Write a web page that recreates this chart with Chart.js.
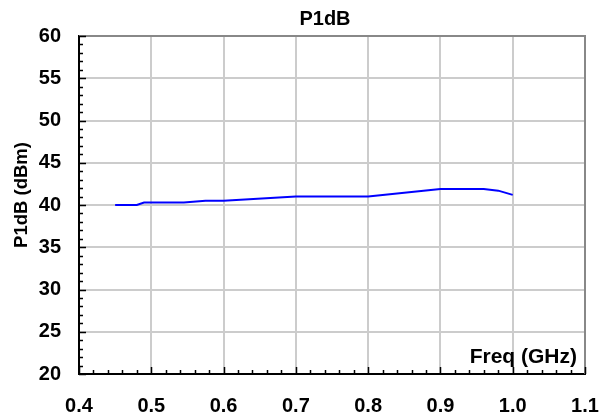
<!DOCTYPE html>
<html>
<head>
<meta charset="utf-8">
<script src="https://cdn.jsdelivr.net/npm/chart.js@4/dist/chart.umd.min.js"></script>
<style>
html,body{margin:0;padding:0;background:#fff;}
#wrap{width:607px;height:417px;position:relative;}
</style>
</head>
<body>
<div id="wrap"><canvas id="c" width="607" height="417"></canvas></div>
<script>
const chartTitle = "P1dB";
const xAxisTitle = "Freq (GHz)";
const yAxisTitle = "P1dB (dBm)";
const freqGHz = [0.45, 0.48, 0.49, 0.545, 0.575, 0.60, 0.70, 0.80, 0.90, 0.96, 0.98, 1.00];
const p1dB    = [40.0, 40.0, 40.3, 40.3, 40.5, 40.5, 41.0, 41.0, 41.9, 41.9, 41.7, 41.2];
const xTicks = [0.4, 0.5, 0.6, 0.7, 0.8, 0.9, 1.0, 1.1];
const yTicks = [20, 25, 30, 35, 40, 45, 50, 55, 60];

const FONT = "'Liberation Sans', Arial, sans-serif";

const extras = {
  id: 'extras',
  afterDraw(chart) {
    const ctx = chart.ctx, ca = chart.chartArea;
    const xs = chart.scales.x, ys = chart.scales.y;
    ctx.save();
    // top/right border
    ctx.strokeStyle = '#888888';
    ctx.lineWidth = 2;
    ctx.beginPath();
    ctx.moveTo(ca.left, ca.top);
    ctx.lineTo(ca.right, ca.top);
    ctx.lineTo(ca.right, ca.bottom);
    ctx.stroke();
    // minor ticks
    ctx.strokeStyle = '#000';
    ctx.lineWidth = 1.5;
    ctx.beginPath();
    for (let i = 0; i <= 40; i++) {
      const v = yTicks[0] + i;
      const py = Math.round(ys.getPixelForValue(v)) + 0.5;
      const len = (i % 5 === 0) ? 7 : 4;
      ctx.moveTo(ca.left, py);
      ctx.lineTo(ca.left + len, py);
    }
    for (let i = 0; i <= 35; i++) {
      const v = xTicks[0] + i * 0.02;
      const px = Math.round(xs.getPixelForValue(v)) + 0.5;
      const len = (i % 5 === 0) ? 7 : 4;
      ctx.moveTo(px, ca.bottom);
      ctx.lineTo(px, ca.bottom - len);
    }
    ctx.stroke();
    ctx.fillStyle = '#000';
    // title
    ctx.font = "bold 20px " + FONT;
    ctx.textAlign = 'center';
    ctx.textBaseline = 'alphabetic';
    ctx.fillText(chartTitle, 325, 25);
    // x axis title inside plot
    ctx.font = "bold 21px " + FONT;
    ctx.textAlign = 'right';
    ctx.fillText(xAxisTitle, ca.right - 8, ca.bottom - 11);
    // y axis title
    ctx.translate(27, 195);
    ctx.rotate(-Math.PI / 2);
    ctx.font = "bold 18.5px " + FONT;
    ctx.textAlign = 'center';
    ctx.fillText(yAxisTitle, 0, 0);
    ctx.restore();
  }
};

new Chart(document.getElementById('c'), {
  type: 'scatter',
  data: {
    datasets: [{
      data: freqGHz.map((f, i) => ({x: f, y: p1dB[i]})),
      showLine: true,
      borderColor: '#0000ff',
      backgroundColor: '#0000ff',
      borderWidth: 2,
      pointRadius: 0,
      tension: 0
    }]
  },
  options: {
    responsive: false,
    animation: false,
    layout: { padding: { top: 36, right: 22, bottom: 0, left: 0 } },
    plugins: {
      legend: { display: false },
      tooltip: { enabled: false },
      title: { display: false }
    },
    scales: {
      x: {
        type: 'linear',
        min: xTicks[0], max: xTicks[xTicks.length - 1],
        afterBuildTicks: (s) => { s.ticks = xTicks.map(v => ({value: v})); },
        afterFit: (s) => { s.height = 43; s.paddingLeft = 0; s.paddingRight = 0; },
        ticks: {
          color: '#000',
          padding: 20,
          font: { family: FONT, size: 20, weight: 'bold' },
          callback: (v) => Number(v).toFixed(1),
          maxRotation: 0
        },
        grid: { color: '#cccccc', lineWidth: 2, drawTicks: false },
        border: { color: '#000', width: 2 }
      },
      y: {
        type: 'linear',
        min: yTicks[0], max: yTicks[yTicks.length - 1],
        afterBuildTicks: (s) => { s.ticks = yTicks.map(v => ({value: v})); },
        afterFit: (s) => { s.width = 79; s.paddingTop = 0; s.paddingBottom = 0; },
        ticks: {
          color: '#000',
          padding: 18,
          font: { family: FONT, size: 20, weight: 'bold' }
        },
        grid: { color: '#cccccc', lineWidth: 2, drawTicks: false },
        border: { color: '#000', width: 2 }
      }
    }
  },
  plugins: [extras]
});
</script>
</body>
</html>
